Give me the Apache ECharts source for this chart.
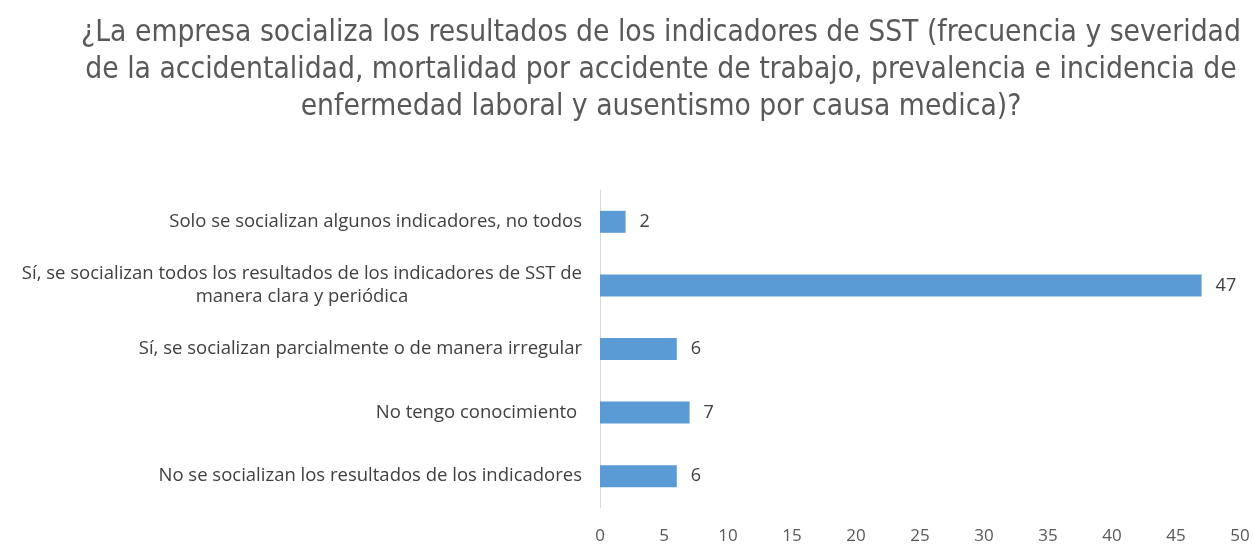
<!DOCTYPE html>
<html>
<head>
<meta charset="utf-8">
<script src="https://cdn.jsdelivr.net/npm/echarts@6/dist/echarts.min.js"></script>
<style>
  html, body { margin: 0; padding: 0; background: #fff; }
  #chart { width: 1253px; height: 546px; }
</style>
</head>
<body>
<div id="chart"></div>
<script>
const titleLines = [
  '¿La empresa socializa los resultados de los indicadores de SST (frecuencia y severidad',
  'de la accidentalidad, mortalidad por accidente de trabajo, prevalencia e incidencia de',
  'enfermedad laboral y ausentismo por causa medica)?'
];
// top to bottom
const categories = [
  'Solo se socializan algunos indicadores, no todos',
  'Sí, se socializan todos los resultados de los indicadores de SST de\nmanera clara y periódica',
  'Sí, se socializan parcialmente o de manera irregular',
  'No tengo conocimiento ',
  'No se socializan los resultados de los indicadores'
];
const values = [2, 47, 6, 7, 6];
const xTicks = { min: 0, max: 50, interval: 5 };

const narrow = '"Liberation Sans Narrow", "DejaVu Sans Condensed", sans-serif';
const regular = '"Open Sans", "Liberation Sans", sans-serif';
const chart = echarts.init(document.getElementById('chart'));

chart.setOption({
  backgroundColor: '#ffffff',
  animation: false,
  title: {
    text: titleLines.join('\n'),
    left: 656,
    top: 10,
    textAlign: 'center',
    textStyle: {
      fontFamily: narrow,
      fontSize: 29.7,
      fontWeight: 'normal',
      color: '#595959',
      lineHeight: 37
    }
  },
  grid: { left: 600, right: 13, top: 190, bottom: 38 },
  xAxis: {
    type: 'value',
    min: xTicks.min,
    max: xTicks.max,
    interval: xTicks.interval,
    axisLine: { show: false },
    axisTick: { show: false },
    splitLine: { show: false },
    axisLabel: { color: '#595959', fontSize: 17, fontFamily: regular, margin: 20 }
  },
  yAxis: {
    type: 'category',
    inverse: true,
    data: categories,
    axisLine: { show: true, lineStyle: { color: '#d9d9d9', width: 1 } },
    axisTick: { show: false },
    axisLabel: {
      margin: 18,
      formatter: v => v.split('\n').map(s => '{l|' + s + '}').join('\n'),
      rich: {
        l: { align: 'center', color: '#404040', fontSize: 18.5, fontFamily: regular, lineHeight: 23 }
      }
    }
  },
  series: [{
    type: 'bar',
    data: values,
    barWidth: 22,
    itemStyle: { color: '#5b9bd5' },
    label: {
      show: true,
      position: 'right',
      distance: 14,
      color: '#404040',
      fontSize: 18,
      fontFamily: regular
    }
  }]
});
</script>
</body>
</html>
